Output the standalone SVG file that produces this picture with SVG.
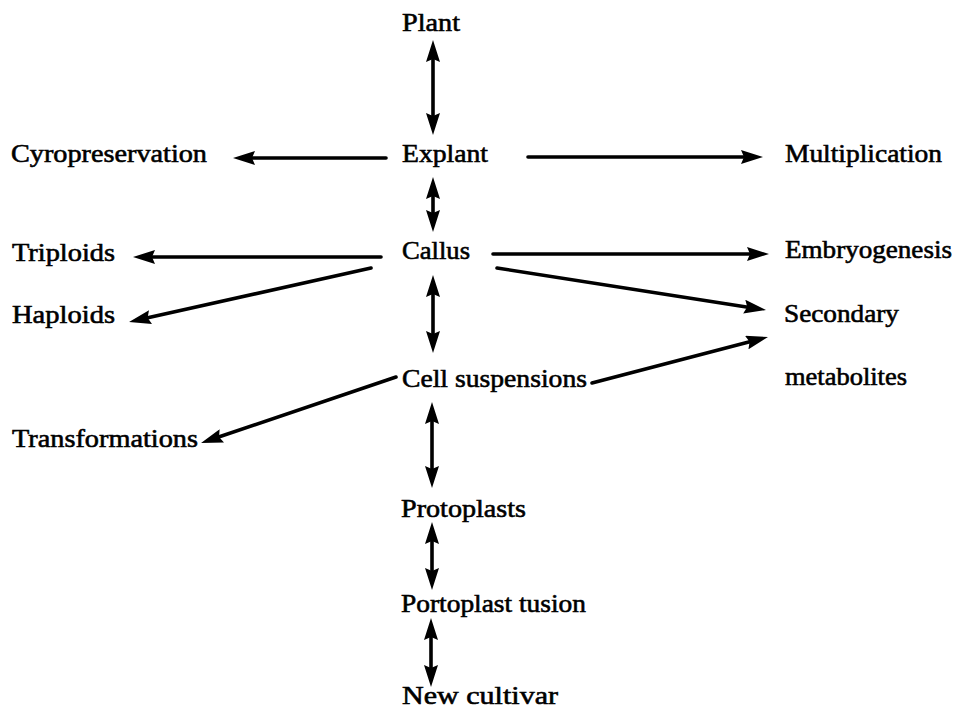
<svg xmlns="http://www.w3.org/2000/svg" width="955" height="711" viewBox="0 0 955 711">
  <style>
    .lbl { font-family: "Liberation Serif", "Times New Roman", serif; font-size: 26px; fill: #000; stroke: #000; stroke-width: 0.6px; }
    .conn { stroke: #000; stroke-width: 3.6; fill: none; stroke-linecap: round; }
    .one { marker-end: url(#head); }
    .two { marker-start: url(#head); marker-end: url(#head); }
  </style>
  <defs>
    <marker id="head" viewBox="0 0 22 14" refX="12" refY="7" markerWidth="22" markerHeight="14" markerUnits="userSpaceOnUse" orient="auto-start-reverse">
      <path d="M0,0 L22,7 L0,14 L3,7 z" fill="#000"/>
    </marker>
  </defs>
  <rect width="955" height="711" fill="#fff"/>

  <g id="connectors">
    <line class="conn two" x1="433" y1="50" x2="433" y2="125"/>
    <line class="conn two" x1="433" y1="187" x2="433" y2="222"/>
    <line class="conn two" x1="433" y1="285" x2="433" y2="343"/>
    <line class="conn two" x1="432" y1="412" x2="432" y2="478"/>
    <line class="conn two" x1="432" y1="532" x2="432" y2="580"/>
    <line class="conn two" x1="431" y1="628" x2="431" y2="677"/>

    <line class="conn one" x1="386" y1="158" x2="243" y2="158"/>
    <line class="conn one" x1="528" y1="157" x2="753" y2="157"/>
    <line class="conn one" x1="381" y1="257" x2="143" y2="257"/>
    <line class="conn one" x1="493" y1="254" x2="759" y2="254"/>
    <line class="conn one" x1="371" y1="268" x2="138.8" y2="319.8"/>
    <line class="conn one" x1="497" y1="268" x2="756.1" y2="308.5"/>
    <line class="conn one" x1="592" y1="383" x2="758.3" y2="339.5"/>
    <line class="conn one" x1="396" y1="377" x2="210.5" y2="439.8"/>
  </g>

  <g id="plant"><text class="lbl" x="402" y="31" textLength="58" lengthAdjust="spacingAndGlyphs">Plant</text></g>
  <g id="explant"><text class="lbl" x="402" y="162" textLength="86" lengthAdjust="spacingAndGlyphs">Explant</text></g>
  <g id="callus"><text class="lbl" x="402" y="259" textLength="68" lengthAdjust="spacingAndGlyphs">Callus</text></g>
  <g id="cell-suspensions"><text class="lbl" x="402" y="387" textLength="185" lengthAdjust="spacingAndGlyphs">Cell suspensions</text></g>
  <g id="protoplasts"><text class="lbl" x="401" y="517" textLength="125" lengthAdjust="spacingAndGlyphs">Protoplasts</text></g>
  <g id="protoplast-fusion"><text class="lbl" x="401" y="612" textLength="185" lengthAdjust="spacingAndGlyphs">Portoplast tusion</text></g>
  <g id="new-cultivar"><text class="lbl" x="402" y="704" textLength="156" lengthAdjust="spacingAndGlyphs">New cultivar</text></g>
  <g id="cryopreservation"><text class="lbl" x="11" y="162" textLength="196" lengthAdjust="spacingAndGlyphs">Cyropreservation</text></g>
  <g id="triploids"><text class="lbl" x="12" y="261" textLength="103" lengthAdjust="spacingAndGlyphs">Triploids</text></g>
  <g id="haploids"><text class="lbl" x="12" y="323" textLength="103" lengthAdjust="spacingAndGlyphs">Haploids</text></g>
  <g id="transformations"><text class="lbl" x="12" y="447" textLength="186" lengthAdjust="spacingAndGlyphs">Transformations</text></g>
  <g id="multiplication"><text class="lbl" x="785" y="162" textLength="157" lengthAdjust="spacingAndGlyphs">Multiplication</text></g>
  <g id="embryogenesis"><text class="lbl" x="785" y="258" textLength="167" lengthAdjust="spacingAndGlyphs">Embryogenesis</text></g>
  <g id="secondary-metabolites">
    <text class="lbl" x="784" y="322" textLength="115" lengthAdjust="spacingAndGlyphs">Secondary</text>
    <text class="lbl" x="785" y="385" textLength="122" lengthAdjust="spacingAndGlyphs">metabolites</text>
  </g>
</svg>
